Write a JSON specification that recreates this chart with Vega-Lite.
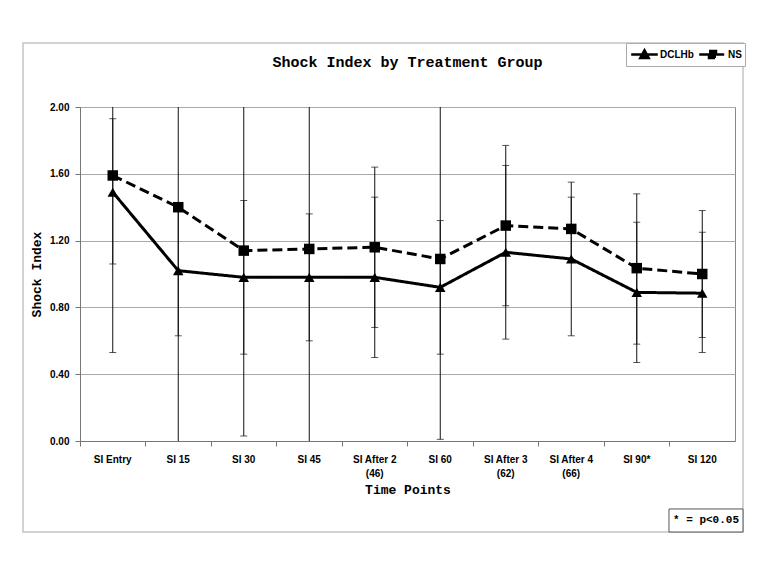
{
  "$schema": "https://vega.github.io/schema/vega-lite/v6.json",
  "width": 655,
  "height": 334,
  "autosize": {"type": "none"},
  "padding": {"left": 80, "top": 107, "right": 32, "bottom": 134},
  "background": "white",
  "title": {
    "text": "Shock Index by Treatment Group",
    "font": "Liberation Mono",
    "fontSize": 15,
    "fontWeight": "bold",
    "anchor": "middle",
    "frame": "group",
    "offset": -28,
    "color": "black"
  },
  "datasets": {
    "stats": [
      {"time": "SI Entry", "group": "DCLHb", "mean": 1.49, "lo": 1.06, "hi": 1.93},
      {"time": "SI Entry", "group": "NS", "mean": 1.59, "lo": 0.53, "hi": 2.65},
      {"time": "SI 15", "group": "DCLHb", "mean": 1.02, "lo": 0.63, "hi": 1.41},
      {"time": "SI 15", "group": "NS", "mean": 1.40, "lo": -0.15, "hi": 2.95},
      {"time": "SI 30", "group": "DCLHb", "mean": 0.98, "lo": 0.52, "hi": 1.44},
      {"time": "SI 30", "group": "NS", "mean": 1.14, "lo": 0.03, "hi": 2.25},
      {"time": "SI 45", "group": "DCLHb", "mean": 0.98, "lo": 0.60, "hi": 1.36},
      {"time": "SI 45", "group": "NS", "mean": 1.15, "lo": -0.05, "hi": 2.35},
      {"time": "SI After 2 (46)", "group": "DCLHb", "mean": 0.98, "lo": 0.50, "hi": 1.46},
      {"time": "SI After 2 (46)", "group": "NS", "mean": 1.16, "lo": 0.68, "hi": 1.64},
      {"time": "SI 60", "group": "DCLHb", "mean": 0.92, "lo": 0.52, "hi": 1.32},
      {"time": "SI 60", "group": "NS", "mean": 1.09, "lo": 0.01, "hi": 2.17},
      {"time": "SI After 3 (62)", "group": "DCLHb", "mean": 1.13, "lo": 0.61, "hi": 1.65},
      {"time": "SI After 3 (62)", "group": "NS", "mean": 1.29, "lo": 0.81, "hi": 1.77},
      {"time": "SI After 4 (66)", "group": "DCLHb", "mean": 1.09, "lo": 0.63, "hi": 1.55},
      {"time": "SI After 4 (66)", "group": "NS", "mean": 1.27, "lo": 1.08, "hi": 1.46},
      {"time": "SI 90*", "group": "DCLHb", "mean": 0.89, "lo": 0.47, "hi": 1.31},
      {"time": "SI 90*", "group": "NS", "mean": 1.035, "lo": 0.58, "hi": 1.48},
      {"time": "SI 120", "group": "DCLHb", "mean": 0.885, "lo": 0.53, "hi": 1.25},
      {"time": "SI 120", "group": "NS", "mean": 1.00, "lo": 0.62, "hi": 1.38}
    ]
  },
  "layer": [
    {
      "data": {"values": [{"label": "* = p<0.05"}]},
      "layer": [
        {
          "mark": {"type": "rect", "fill": "transparent", "stroke": "#c4c4c4", "strokeWidth": 1.5},
          "encoding": {
            "x": {"datum": -0.87, "type": "quantitative", "scale": {"domain": [0, 10], "zero": false, "nice": false}, "axis": null},
            "x2": {"datum": 10.122},
            "y": {"datum": 2.383, "type": "quantitative"},
            "y2": {"datum": -0.545}
          }
        },
        {
          "mark": {"type": "rect", "fill": "white", "stroke": "#555555", "strokeWidth": 1},
          "encoding": {
            "x": {"datum": 8.992, "type": "quantitative"},
            "x2": {"datum": 10.122},
            "y": {"datum": -0.407, "type": "quantitative"},
            "y2": {"datum": -0.545}
          }
        },
        {
          "mark": {"type": "text", "font": "Liberation Mono", "fontWeight": "bold", "fontSize": 11, "color": "black", "align": "center", "baseline": "middle"},
          "encoding": {
            "x": {"datum": 9.557, "type": "quantitative"},
            "y": {"datum": -0.476, "type": "quantitative"},
            "text": {"field": "label"}
          }
        }
      ]
    },
    {
      "data": {"name": "stats"},
      "encoding": {
        "x": {
          "field": "time",
          "type": "nominal",
          "sort": null,
          "scale": {"paddingInner": 0, "paddingOuter": 0},
          "axis": {
            "orient": "bottom",
            "title": "Time Points",
            "labelAngle": 0,
            "bandPosition": 0,
            "labelExpr": "indexof(datum.label, ' (') > 0 ? [slice(datum.label, 0, indexof(datum.label, ' (')), slice(datum.label, indexof(datum.label, ' (') + 1)] : datum.label",
            "labelLineHeight": 14,
            "grid": false,
            "tickSize": 5,
            "labelPadding": 8,
            "titlePadding": 5
          }
        },
        "y": {
          "field": "mean",
          "type": "quantitative",
          "scale": {"domain": [0, 2], "nice": false, "zero": true},
          "axis": {
            "title": "Shock Index",
            "values": [0, 0.4, 0.8, 1.2, 1.6, 2.0],
            "format": ".2f",
            "grid": true,
            "tickSize": 5,
            "labelPadding": 6,
            "titlePadding": 6
          }
        }
      },
      "layer": [
        {
          "mark": {"type": "rule", "color": "#111111", "strokeWidth": 1, "clip": true},
          "encoding": {
            "y": {"field": "lo", "type": "quantitative"},
            "y2": {"field": "hi"}
          }
        },
        {
          "mark": {"type": "tick", "color": "#111111", "size": 7, "thickness": 1, "clip": true},
          "encoding": {
            "y": {"field": "lo", "type": "quantitative"}
          }
        },
        {
          "mark": {"type": "tick", "color": "#111111", "size": 7, "thickness": 1, "clip": true},
          "encoding": {
            "y": {"field": "hi", "type": "quantitative"}
          }
        },
        {
          "mark": {"type": "line", "color": "black", "strokeWidth": 3},
          "encoding": {
            "strokeDash": {
              "field": "group",
              "type": "nominal",
              "scale": {"domain": ["DCLHb", "NS"], "range": [[1, 0], [10, 5]]},
              "legend": {
                "title": null,
                "orient": "none",
                "legendX": 546,
                "legendY": -64,
                "direction": "horizontal",
                "strokeColor": "#aaaaaa",
                "fillColor": "white",
                "padding": 3,
                "labelFont": "Liberation Sans",
                "labelFontWeight": "bold",
                "labelFontSize": 10,
                "labelColor": "black",
                "symbolType": "M-1.9,0H1.9",
                "symbolSize": 196,
                "symbolStrokeWidth": 2.5,
                "symbolStrokeColor": "black",
                "symbolFillColor": "black",
                "symbolOffset": 7,
                "labelOffset": 7,
                "columnPadding": 0,
                "encode": {
                  "symbols": {
                    "update": {
                      "shape": {"signal": "datum.value === 'DCLHb' ? 'M-1.9,0H1.9M0,-0.6L0.6,0.5L-0.6,0.5Z' : 'M-1.9,0H1.9M-0.5,-0.5H0.5V0.5H-0.5Z'"},
                      "fill": {"value": "black"},
                      "stroke": {"value": "black"}
                    }
                  }
                }
              }
            }
          }
        },
        {
          "transform": [{"filter": "datum.group === 'DCLHb'"}],
          "mark": {"type": "point", "shape": "triangle-up", "filled": true, "color": "black", "size": 110, "opacity": 1}
        },
        {
          "transform": [{"filter": "datum.group === 'NS'"}],
          "mark": {"type": "point", "shape": "square", "filled": true, "color": "black", "size": 110, "opacity": 1}
        }
      ]
    }
  ],
  "resolve": {"scale": {"x": "independent"}, "axis": {"x": "independent"}},
  "config": {
    "view": {"stroke": "#888888", "strokeWidth": 1},
    "axis": {
      "labelFont": "Liberation Sans",
      "labelFontWeight": "bold",
      "labelFontSize": 10,
      "labelColor": "black",
      "titleFont": "Liberation Mono",
      "titleFontWeight": "bold",
      "titleFontSize": 13,
      "titleColor": "black",
      "domainColor": "#777777",
      "tickColor": "#777777",
      "gridColor": "#aaaaaa",
      "gridWidth": 1
    }
  }
}
